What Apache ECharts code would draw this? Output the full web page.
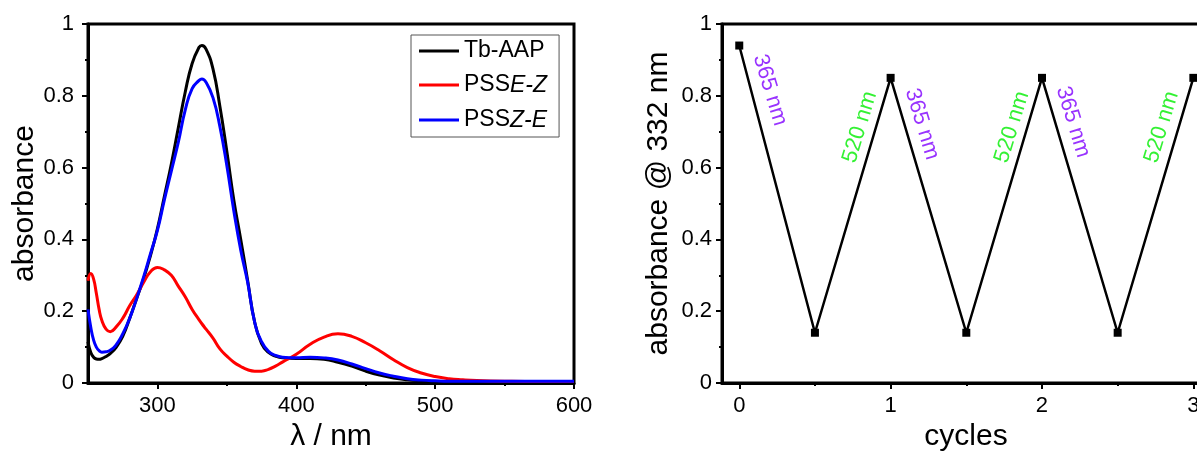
<!DOCTYPE html>
<html><head><meta charset="utf-8">
<script src="https://cdn.jsdelivr.net/npm/echarts@6/dist/echarts.min.js"></script>
<style>html,body{margin:0;padding:0;background:#fff}#c{width:1197px;height:452px}</style>
</head><body><div id="c"></div>
<script>
// ---- data ----
const wavelengths = [250,252,254,256,258,260,263,266,270,275,280,285,290,295,300,305,310,315,320,325,330,332,335,340,345,350,355,360,365,370,375,380,385,390,400,410,420,430,440,450,460,470,480,490,500,510,520,530,550,575,600];
const tbAAP = [0.115,0.085,0.072,0.067,0.066,0.068,0.074,0.082,0.098,0.13,0.18,0.235,0.29,0.355,0.43,0.52,0.61,0.71,0.81,0.89,0.935,0.94,0.93,0.875,0.77,0.645,0.51,0.40,0.285,0.17,0.11,0.085,0.075,0.07,0.068,0.068,0.066,0.058,0.047,0.033,0.022,0.014,0.009,0.006,0.004,0.003,0.003,0.003,0.003,0.003,0.003];
const pssEZ = [0.285,0.305,0.29,0.25,0.205,0.174,0.15,0.143,0.155,0.18,0.215,0.245,0.28,0.31,0.322,0.315,0.30,0.27,0.24,0.205,0.176,0.165,0.15,0.125,0.095,0.075,0.058,0.046,0.037,0.033,0.033,0.038,0.047,0.058,0.08,0.108,0.128,0.137,0.13,0.112,0.09,0.065,0.043,0.028,0.018,0.012,0.009,0.007,0.005,0.004,0.004];
const pssZE = [0.205,0.155,0.12,0.10,0.09,0.086,0.087,0.091,0.105,0.137,0.18,0.235,0.295,0.36,0.425,0.51,0.59,0.67,0.76,0.82,0.843,0.847,0.838,0.795,0.714,0.605,0.48,0.37,0.28,0.17,0.115,0.088,0.077,0.072,0.07,0.072,0.07,0.064,0.053,0.04,0.028,0.019,0.012,0.008,0.006,0.005,0.005,0.005,0.005,0.005,0.005];
const seriesNames = ['Tb-AAP','PSS E-Z','PSS Z-E'];
const cycles = [0,0.5,1,1.5,2,2.5,3];
const abs332 = [0.94,0.14,0.85,0.14,0.85,0.14,0.85];
const annotations = [[0.203,0.816,'365 nm'],[0.797,0.713,'520 nm'],[1.207,0.721,'365 nm'],[1.802,0.713,'520 nm'],[2.205,0.727,'365 nm'],[2.79,0.713,'520 nm']];
const spectrumTicks = [300,400,500,600];
const spectrumMinorTicks = [350,450,550];
const cycleTicks = [0,1,2,3];
const cycleMinorTicks = [0.5,1.5,2.5];

// ---- chart ----
const FONT = "'Liberation Sans', Arial, sans-serif";
const pair = (xs, ys) => xs.map((x, i) => [x, ys[i]]);
const axisLineStyle = {show: true, onZero: false, lineStyle: {color: '#000', width: 3}};
const tickLab = {color: '#000', fontSize: 22, fontFamily: FONT};
const nameStyle = {color: '#000', fontSize: 30, fontFamily: FONT};

const chart = echarts.init(document.getElementById('c'), null, {renderer: 'canvas'});
chart.setOption({
  backgroundColor: '#fff',
  animation: false,
  grid: [
    {left: 88, top: 24, width: 486, height: 359, show: true, borderColor: '#000', borderWidth: 3, outerBoundsMode: 'none', containLabel: false},
    {left: 722, top: 24, width: 488, height: 359, show: true, borderColor: '#000', borderWidth: 3, outerBoundsMode: 'none', containLabel: false}
  ],
  legend: {
    data: seriesNames,
    orient: 'vertical', left: 411, top: 35,
    padding: [4, 12, 5, 8], itemGap: 4,
    borderColor: '#555', borderWidth: 1,
    icon: 'rect', itemWidth: 40, itemHeight: 3,
    formatter: n => n.startsWith('PSS') ? '{n|PSS}{s|' + n.slice(4) + '}' : '{n|' + n + '}',
    textStyle: {
      color: '#000', fontFamily: FONT, fontSize: 23,
      rich: {
        n: {fontSize: 23, fontFamily: FONT, color: '#000', lineHeight: 24, verticalAlign: 'top'},
        s: {fontSize: 23, fontFamily: FONT, color: '#000', fontStyle: 'italic', lineHeight: 24, padding: [8, 0, 0, 0], verticalAlign: 'bottom'}
      }
    }
  },
  xAxis: [
    {gridIndex: 0, type: 'value', position: 'bottom', min: 250, max: 600,
     name: 'λ / nm', nameLocation: 'middle', nameGap: 32, nameTextStyle: nameStyle,
     axisLine: axisLineStyle, splitLine: {show: false},
     axisTick: {show: true, customValues: spectrumTicks, length: 6, lineStyle: {width: 2, color: '#000'}},
     axisLabel: {customValues: spectrumTicks, margin: 12, ...tickLab}},
    {gridIndex: 0, type: 'value', position: 'bottom', min: 250, max: 600,
     axisLine: {show: false}, splitLine: {show: false}, axisLabel: {show: false},
     axisTick: {show: true, customValues: spectrumMinorTicks, length: 3, lineStyle: {width: 2, color: '#000'}}},
    {gridIndex: 1, type: 'value', position: 'bottom', min: -0.114, max: 3.11,
     name: 'cycles', nameLocation: 'middle', nameGap: 32, nameTextStyle: nameStyle,
     axisLine: axisLineStyle, splitLine: {show: false},
     axisTick: {show: true, customValues: cycleTicks, length: 6, lineStyle: {width: 2, color: '#000'}},
     axisLabel: {customValues: cycleTicks, margin: 12, ...tickLab}},
    {gridIndex: 1, type: 'value', position: 'bottom', min: -0.114, max: 3.11,
     axisLine: {show: false}, splitLine: {show: false}, axisLabel: {show: false},
     axisTick: {show: true, customValues: cycleMinorTicks, length: 3, lineStyle: {width: 2, color: '#000'}}}
  ],
  yAxis: [
    {gridIndex: 0, type: 'value', position: 'left', min: 0, max: 1, interval: 0.2,
     name: 'absorbance', nameLocation: 'middle', nameGap: 46, nameTextStyle: nameStyle,
     axisLine: axisLineStyle, splitLine: {show: false},
     axisTick: {show: true, length: 6, lineStyle: {width: 2, color: '#000'}},
     minorTick: {show: true, splitNumber: 2, length: 3, lineStyle: {width: 2, color: '#000'}},
     axisLabel: {margin: 14, formatter: v => String(+v.toFixed(1)), ...tickLab}},
    {gridIndex: 1, type: 'value', position: 'left', min: 0, max: 1, interval: 0.2,
     name: 'absorbance @ 332 nm', nameLocation: 'middle', nameGap: 48, nameTextStyle: nameStyle,
     axisLine: axisLineStyle, splitLine: {show: false},
     axisTick: {show: true, length: 6, lineStyle: {width: 2, color: '#000'}},
     minorTick: {show: true, splitNumber: 2, length: 3, lineStyle: {width: 2, color: '#000'}},
     axisLabel: {margin: 10, formatter: v => String(+v.toFixed(1)), ...tickLab}}
  ],
  series: [
    {name: seriesNames[0], type: 'line', xAxisIndex: 0, yAxisIndex: 0, data: pair(wavelengths, tbAAP),
     smooth: 0.5, showSymbol: false, lineStyle: {color: '#000', width: 3}, itemStyle: {color: '#000'}, z: 3},
    {name: seriesNames[1], type: 'line', xAxisIndex: 0, yAxisIndex: 0, data: pair(wavelengths, pssEZ),
     smooth: 0.5, showSymbol: false, lineStyle: {color: '#ff0000', width: 3}, itemStyle: {color: '#ff0000'}, z: 4},
    {name: seriesNames[2], type: 'line', xAxisIndex: 0, yAxisIndex: 0, data: pair(wavelengths, pssZE),
     smooth: 0.5, showSymbol: false, lineStyle: {color: '#0000ff', width: 3}, itemStyle: {color: '#0000ff'}, z: 5},
    {name: 'cycles', type: 'line', xAxisIndex: 2, yAxisIndex: 1, data: pair(cycles, abs332),
     symbol: 'rect', symbolSize: 8, showSymbol: true, lineStyle: {color: '#000', width: 2.5}, itemStyle: {color: '#000'}},
    {name: 'annot', type: 'scatter', xAxisIndex: 2, yAxisIndex: 1, symbolSize: 0, silent: true,
     data: annotations.map(a => {
       const is365 = a[2].startsWith('365');
       return {value: [a[0], a[1]], name: a[2],
         label: {show: true, formatter: a[2], position: 'inside', rotate: is365 ? -73 : 73,
                 color: is365 ? '#8000ff' : '#00ee00', fontSize: 22, fontFamily: FONT}};
     })}
  ]
});
</script></body></html>
